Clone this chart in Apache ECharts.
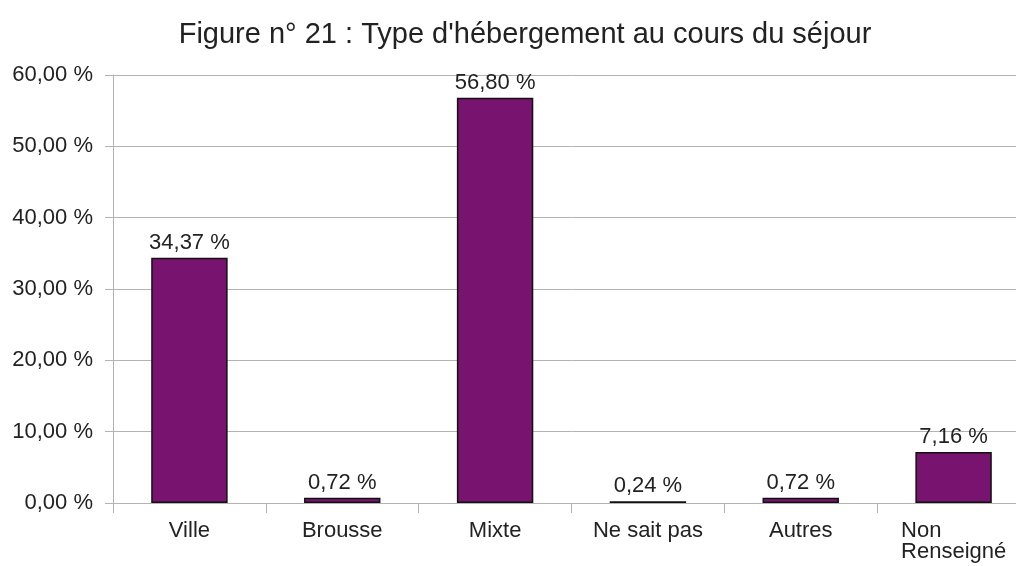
<!DOCTYPE html>
<html>
<head>
<meta charset="utf-8">
<script src="https://cdn.jsdelivr.net/npm/echarts@6/dist/echarts.min.js"></script>
<style>
  html, body { margin: 0; padding: 0; background: #fff; overflow: hidden; }
  #chart { width: 1030px; height: 566px; }
</style>
</head>
<body>
<div id="chart"></div>
<script>
const categories = ['Ville', 'Brousse', 'Mixte', 'Ne sait pas', 'Autres', 'Non\nRenseigné'];
const values = [34.37, 0.72, 56.80, 0.24, 0.72, 7.16];
const titleText = "Figure n° 21 : Type d'hébergement au cours du séjour";

const pct = v => v.toFixed(2).replace('.', ',') + ' %';
const font = 'Liberation Sans';
const txt = '#222';

const chart = echarts.init(document.getElementById('chart'));
chart.setOption({
  animation: false,
  title: {
    text: titleText,
    left: 520,
    textAlign: 'center',
    top: 15,
    textStyle: { fontFamily: font, fontSize: 29, fontWeight: 'normal', color: txt }
  },
  grid: { left: 113, right: 0, top: 75, bottom: 63 },
  xAxis: {
    type: 'category',
    data: categories,
    axisLine: { lineStyle: { color: '#b3b3b3' } },
    axisTick: { show: true, length: 10, lineStyle: { color: '#b3b3b3' } },
    axisLabel: {
      fontFamily: font, fontSize: 22, color: txt, margin: 17, interval: 0,
      formatter: v => v.indexOf('\n') >= 0
        ? v.split('\n').map(s => '{l|' + s + '}').join('\n')
        : v,
      rich: { l: { width: 105, align: 'left', fontFamily: font, fontSize: 22, color: txt, lineHeight: 21 } }
    }
  },
  yAxis: {
    type: 'value',
    min: 0, max: 60, interval: 10,
    axisLine: { show: true, lineStyle: { color: '#b3b3b3' } },
    axisTick: { show: true, length: 8, lineStyle: { color: '#b3b3b3' } },
    splitLine: { lineStyle: { color: '#b3b3b3' } },
    axisLabel: { fontFamily: font, fontSize: 22, color: txt, margin: 20, formatter: pct }
  },
  series: [{
    type: 'bar',
    data: values,
    barWidth: '50%',
    itemStyle: { color: '#781370', borderColor: '#111', borderWidth: 1.5 },
    label: {
      show: true, position: 'top', distance: 4,
      fontFamily: font, fontSize: 22, color: txt,
      formatter: p => pct(p.value)
    }
  }]
});
</script>
</body>
</html>
